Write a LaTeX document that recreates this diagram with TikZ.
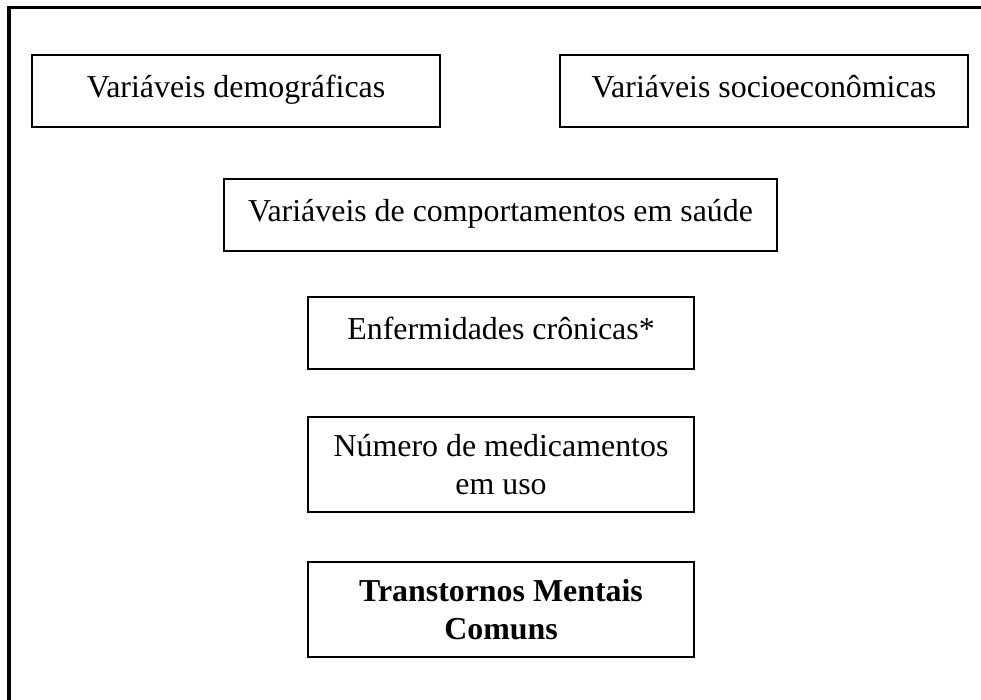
\documentclass[tikz,border=0pt]{standalone}
\usepackage{fontspec}
\setmainfont{Liberation Serif}
\newcommand{\bxstrut}{\rule[-7pt]{0pt}{36pt}}
\newcommand{\bxstrutS}{\rule[-23pt]{0pt}{58pt}}
\tikzset{
  varbox/.style={draw=black, line width=1.8pt, inner sep=0pt, align=center,
    font=\fontsize{31.9}{37.5}\selectfont},
  frameline/.style={draw=black, line width=3.2pt}
}
\begin{document}
\begin{tikzpicture}[x=1pt,y=-1pt]
\useasboundingbox (0,0) rectangle (981,699);
\draw[frameline] (9,705) -- (9,7.5) -- (990,7.5);
\node[varbox, minimum width=408pt, minimum height=72pt] (dem) at (236,91) {\bxstrutS Variáveis demográficas};
\node[varbox, minimum width=408pt, minimum height=72pt] (soc) at (764,91) {\bxstrutS Variáveis socioeconômicas};
\node[varbox, minimum width=553pt, minimum height=72pt] (comp) at (500.5,215) {\bxstrutS Variáveis de comportamentos em saúde};
\node[varbox, minimum width=386pt, minimum height=72pt] (enf) at (501,333) {\bxstrutS Enfermidades crônicas*};
\node[varbox, minimum width=386pt, minimum height=95pt] (med) at (501,464.5) {\bxstrut Número de medicamentos\\\bxstrut em uso};
\node[varbox, minimum width=386pt, minimum height=95pt] (tmc) at (501,609.5) {\bxstrut\bfseries Transtornos Mentais\\\bxstrut\bfseries Comuns};
\end{tikzpicture}
\end{document}
